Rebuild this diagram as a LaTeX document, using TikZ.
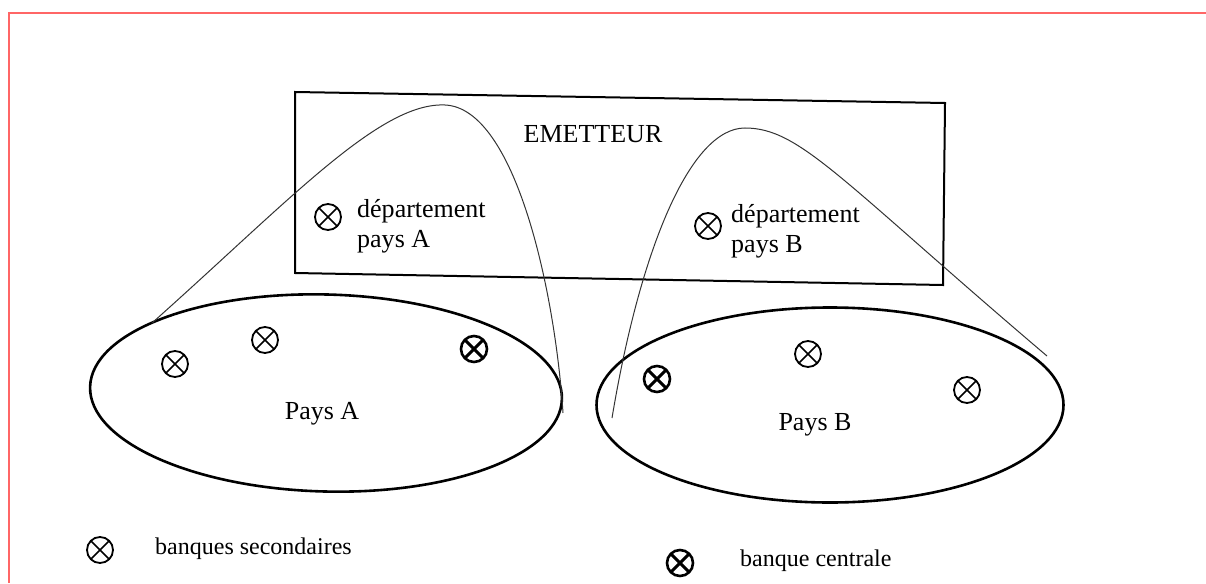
\documentclass[tikz,border=0pt]{standalone}
\usepackage{fontspec}
\setmainfont{Liberation Serif}
\usetikzlibrary{shapes.geometric}
\tikzset{
  otimes/.style={circle, draw, line width=1.8pt, minimum size=26pt, inner sep=0pt,
    path picture={\draw[line width=1.5pt] (path picture bounding box.north west) -- (path picture bounding box.south east)
      (path picture bounding box.north east) -- (path picture bounding box.south west);}},
  cbank/.style={otimes, line width=2.6pt, path picture={\draw[line width=3pt] (path picture bounding box.north west) -- (path picture bounding box.south east)
      (path picture bounding box.north east) -- (path picture bounding box.south west);}},
  lbl/.style={font=\fontsize{26}{30}\selectfont, inner sep=0pt},
  big/.style={font=\fontsize{26}{30}\selectfont, inner sep=0pt},
  leg/.style={font=\fontsize{24}{28}\selectfont, inner sep=0pt, anchor=west},
  thin curve/.style={line width=1pt, black!80},
  frame/.style={line width=2pt},
  country/.style={ellipse, draw, line width=2.6pt, inner sep=0pt}
}
\begin{document}
\begin{tikzpicture}[x=1pt,y=-1pt]
\useasboundingbox (0,0) rectangle (1206,583);
% page border
\draw[red!60, line width=1.2pt] (9,583) -- (9,13) -- (1206,13);
% EMETTEUR box
\draw[frame] (295,92) coordinate (r1) -- (945,103) coordinate (r2) -- (943,285) coordinate (r3) -- (295,273) coordinate (r4) -- cycle;
\node[lbl] (em) at (593,134) {EMETTEUR};
% department symbols
\node[otimes] (dA) at (328,217) {};
\node[lbl, anchor=west, align=left] (tA) at (357,226) {département\\pays A};
\node[otimes] (dB) at (708,226) {};
\node[lbl, anchor=west, align=left] (tB) at (731,231) {département\\pays B};
% countries
\node[country, minimum width=472pt, minimum height=197pt, rotate=-1.5] (pA) at (326,393) {};
\node[big] (pAt) at (322,414) {Pays A};
\node[country, minimum width=467pt, minimum height=195pt] (pB) at (830,405) {};
\node[big] (pBt) at (815,425) {Pays B};
% banks
\node[otimes] (a1) at (175,364) {};
\node[otimes] (a2) at (265,340) {};
\node[cbank] (a3) at (474,349) {};
\node[cbank] (b1) at (657,379) {};
\node[otimes] (b2) at (808,354) {};
\node[otimes] (b3) at (967,390) {};
% curves
\coordinate (cA0) at (152,323);
\coordinate (cA1) at (445,105);
\coordinate (cA2) at (563,413);
\draw[thin curve] (cA0) .. controls (290,200) and (380,102) .. (cA1) .. controls (515,108) and (555,290) .. (cA2);
\coordinate (cB0) at (612,418);
\coordinate (cB1) at (745,128);
\coordinate (cB2) at (1047,356);
\draw[thin curve] (cB0) .. controls (640,250) and (690,128) .. (cB1) .. controls (800,128) and (840,180) .. (cB2);
% legend
\node[otimes] (l1) at (100,550) {};
\node[leg] (l1t) at (155,549) {banques secondaires};
\node[cbank] (l2) at (680,563) {};
\node[leg] (l2t) at (740,561) {banque centrale};
\end{tikzpicture}
\end{document}
